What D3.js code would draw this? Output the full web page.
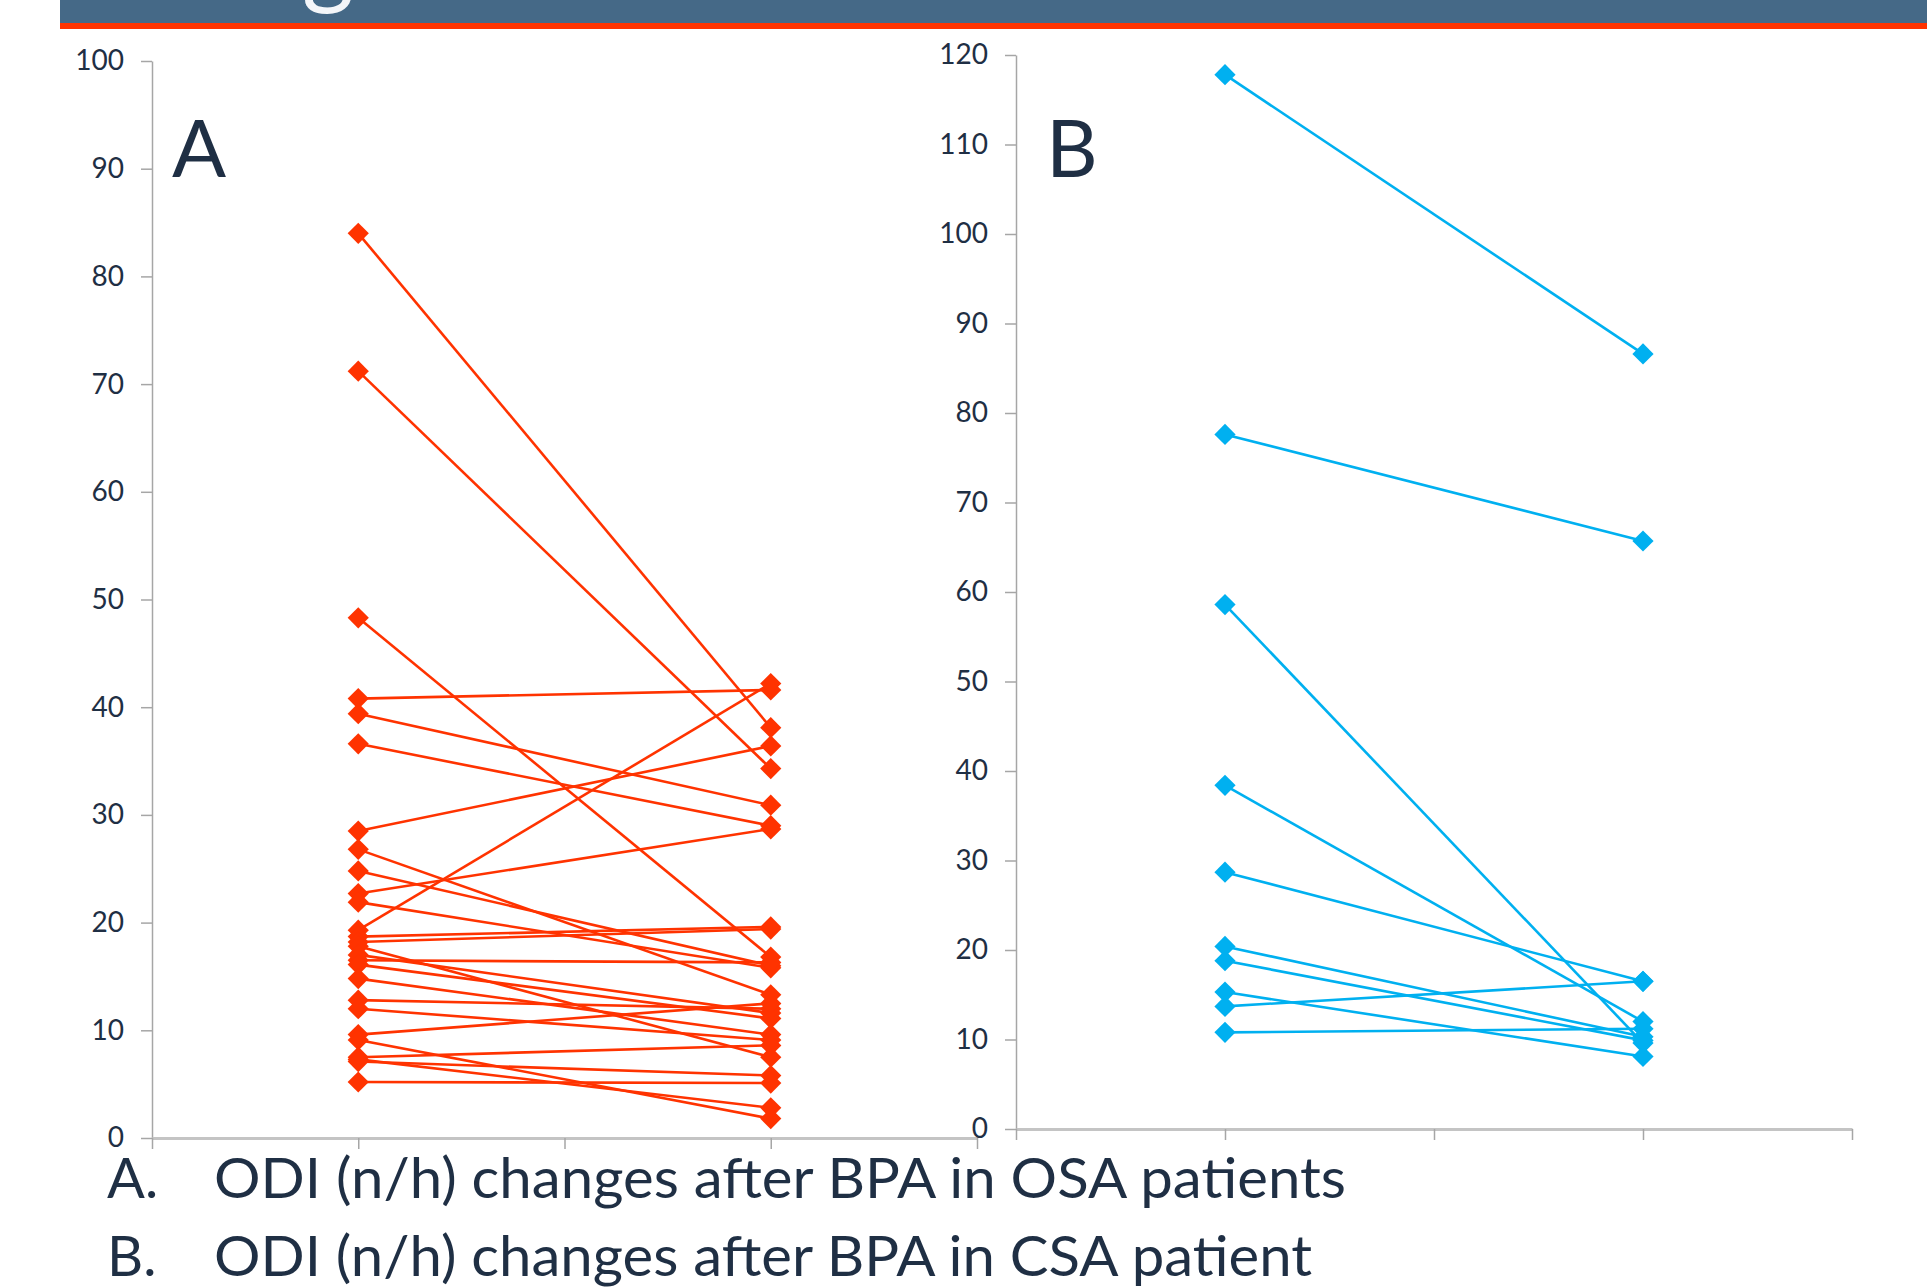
<!DOCTYPE html>
<html>
<head>
<meta charset="utf-8">
<script src="https://cdn.jsdelivr.net/npm/d3@7"></script>
<style>
  body { margin: 0; background: #fff; }
  svg { display: block; }
</style>
</head>
<body>
<svg id="chart"></svg>
<script>
const width = 1927;
const height = 1288;

// ODI (n/h) per patient, before (x=1) and after (x=3) BPA
const visits = [1, 3];
const osaBefore = [84, 71.2, 48.3, 40.8, 39.4, 36.6, 28.5, 26.8, 24.8, 22.7, 21.9, 19.3, 18.7, 18.2, 16.5, 17.8, 17.0, 16.1, 14.8, 12.8, 12.0, 9.6, 9.1, 7.5, 7.3, 7.1, 5.2];
const osaAfter  = [38.1, 34.3, 16.8, 41.6, 30.9, 29.0, 36.4, 13.3, 16.0, 28.7, 15.8, 42.2, 19.6, 19.4, 16.3, 7.5, 11.6, 11.1, 9.6, 12.0, 9.1, 12.5, 1.8, 8.6, 2.8, 5.8, 5.1];
const csaBefore = [117.8, 77.6, 58.6, 38.4, 28.7, 20.4, 18.8, 15.3, 13.7, 10.8];
const csaAfter  = [86.6, 65.7, 9.6, 12.0, 16.5, 10.3, 9.9, 8.1, 16.5, 11.2];

const xTicks = [0, 1, 2, 3, 4];
const osaTicks = [0, 10, 20, 30, 40, 50, 60, 70, 80, 90, 100];
const csaTicks = [0, 10, 20, 30, 40, 50, 60, 70, 80, 90, 100, 110, 120];

const captionKeys = ['A.', 'B.'];
const captionTexts = ['ODI (n/h) changes after BPA in OSA patients', 'ODI (n/h) changes after BPA in CSA patient'];

const textColor = '#1f2f44';

const svg = d3.select('#chart')
    .attr('width', width)
    .attr('height', height);

// banner at the top of the slide (title cut off)
svg.append('clipPath').attr('id', 'bannerClip')
  .append('rect').attr('x', 60).attr('y', 0).attr('width', width - 60).attr('height', 23);
svg.append('rect')
    .attr('x', 60).attr('y', 0).attr('width', width - 60).attr('height', 23)
    .attr('fill', '#456987');
svg.append('text')
    .attr('clip-path', 'url(#bannerClip)')
    .attr('x', 302).attr('y', -4)
    .attr('font-family', 'Lato')
    .attr('font-size', 100)
    .attr('fill', '#f4f6f9')
    .text('g');
svg.append('rect')
    .attr('x', 60).attr('y', 23).attr('width', width - 60).attr('height', 6)
    .attr('fill', '#ff3300');

function drawPanel(opts) {
  const x = d3.scaleLinear().domain([0, 4]).range([opts.left, opts.right]);
  const y = d3.scaleLinear().domain([0, opts.yMax]).range([opts.bottom, opts.top]);
  const g = svg.append('g');

  const yAxis = g.append('g')
      .attr('transform', `translate(${opts.left},0)`)
      .call(d3.axisLeft(y).tickValues(opts.ticks).tickSize(11).tickSizeOuter(0).tickPadding(17));
  yAxis.select('.domain').attr('stroke', '#a6a6a6').attr('stroke-width', 1.5);
  yAxis.selectAll('.tick line').attr('stroke', '#a6a6a6').attr('stroke-width', 1.5);
  yAxis.selectAll('.tick text')
      .attr('font-family', 'Lato')
      .attr('font-size', 28)
      .attr('fill', textColor);

  const xAxis = g.append('g')
      .attr('transform', `translate(0,${opts.bottom})`)
      .call(d3.axisBottom(x).tickValues(xTicks).tickFormat('').tickSize(11).tickSizeOuter(0));
  xAxis.selectAll('.tick line').attr('stroke', '#a6a6a6').attr('stroke-width', 1.5);
  xAxis.select('.domain').attr('stroke', '#c4c4c4').attr('stroke-width', 3);

  g.append('text')
      .attr('x', opts.labelX).attr('y', 177)
      .attr('font-family', 'Lato')
      .attr('font-size', 80)
      .attr('fill', textColor)
      .text(opts.label);

  const diamond = d3.symbol().type(d3.symbolSquare).size(225);

  opts.before.forEach((b, i) => {
    const pts = [[visits[0], b], [visits[1], opts.after[i]]];
    const pg = g.append('g');
    pg.append('line')
        .attr('x1', x(pts[0][0])).attr('y1', y(pts[0][1]))
        .attr('x2', x(pts[1][0])).attr('y2', y(pts[1][1]))
        .attr('stroke', opts.color)
        .attr('stroke-width', 2.6);
    pg.selectAll('path')
      .data(pts)
      .enter().append('path')
        .attr('d', diamond)
        .attr('transform', d => `translate(${x(d[0])},${y(d[1])}) rotate(45)`)
        .attr('fill', opts.color);
  });
}

drawPanel({
  left: 152, right: 977, top: 61, bottom: 1138, yMax: 100,
  ticks: osaTicks, before: osaBefore, after: osaAfter,
  color: '#ff3300', label: 'A', labelX: 172
});

drawPanel({
  left: 1016, right: 1852, top: 55, bottom: 1129, yMax: 120,
  ticks: csaTicks, before: csaBefore, after: csaAfter,
  color: '#00b0f0', label: 'B', labelX: 1046
});

// captions under the charts
captionKeys.forEach((k, i) => {
  const base = [1198, 1276][i];
  svg.append('text')
      .attr('x', 107).attr('y', base)
      .attr('font-family', 'Lato')
      .attr('font-size', 56)
      .attr('fill', textColor)
      .text(k);
  svg.append('text')
      .attr('x', 214).attr('y', base)
      .attr('font-family', 'Lato')
      .attr('font-size', 56)
      .attr('fill', textColor)
      .attr('textLength', [1132, 1098][i])
      .attr('lengthAdjust', 'spacingAndGlyphs')
      .text(captionTexts[i]);
});
</script>
</body>
</html>
